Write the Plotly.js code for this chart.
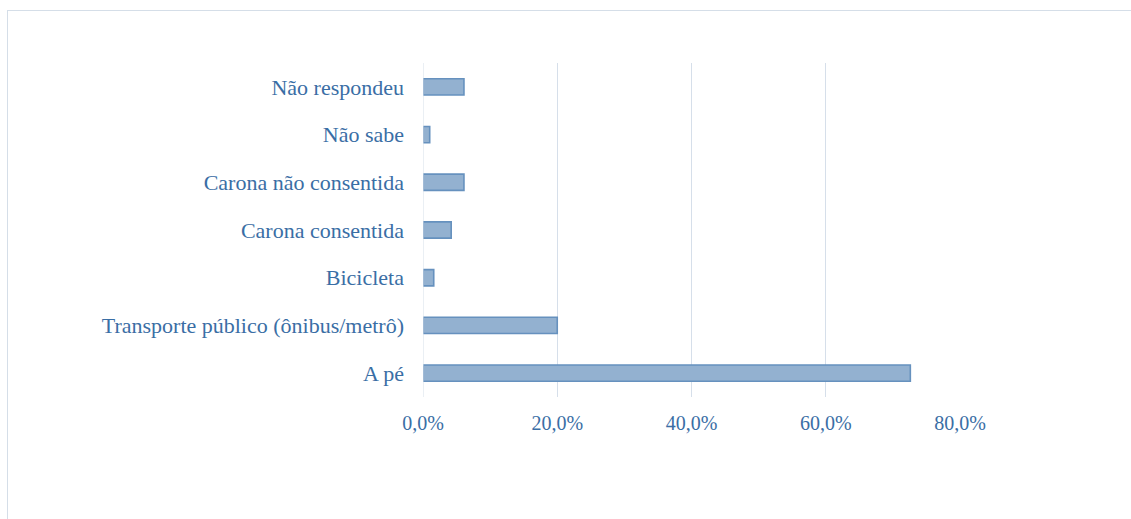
<!DOCTYPE html>
<html>
<head>
<meta charset="utf-8">
<script src="https://cdn.plot.ly/plotly-3.0.1.min.js"></script>
<style>
html,body{margin:0;padding:0;background:#fff;}
#frame{position:absolute;left:7px;top:10px;width:1130px;height:515px;border-left:1px solid #D5DEE8;border-top:1px solid #D5DEE8;box-sizing:border-box;}
#chart{position:absolute;left:0;top:0;width:1131px;height:519px;}
</style>
</head>
<body>
<div id="frame"></div>
<div id="chart"></div>
<script>
const categories = ["A pé","Transporte público (ônibus/metrô)","Bicicleta","Carona consentida","Carona não consentida","Não sabe","Não respondeu"];
const values = [72.6, 20.0, 1.6, 4.2, 6.1, 1.0, 6.1];
const tickValues = [0, 20, 40, 60, 80];
const tickLabels = ["0,0%", "20,0%", "40,0%", "60,0%", "80,0%"];

const trace = {
  type: 'bar',
  orientation: 'h',
  x: values,
  y: categories,
  width: 0.34,
  marker: {color: '#93B1D0', line: {color: '#6691BE', width: 1.6}},
  hoverinfo: 'skip'
};

const layout = {
  width: 1131, height: 519,
  margin: {l: 423, r: 171, t: 63, b: 122},
  paper_bgcolor: 'rgba(0,0,0,0)',
  plot_bgcolor: 'rgba(0,0,0,0)',
  showlegend: false,
  font: {family: 'Liberation Serif, Times New Roman, serif', size: 20, color: '#3A6EA5'},
  xaxis: {
    range: [0, 80],
    tickmode: 'array',
    tickvals: tickValues,
    ticktext: tickLabels,
    tickfont: {size: 20},
    showgrid: true,
    gridcolor: '#D6DFEA',
    gridwidth: 1,
    zeroline: false,
    showline: false,
    ticks: '',
    ticklabelstandoff: 12,
    fixedrange: true
  },
  yaxis: {
    type: 'category',
    categoryorder: 'array',
    categoryarray: categories,
    tickfont: {size: 22},
    showgrid: false,
    zeroline: false,
    showline: false,
    ticks: '',
    ticklabelstandoff: 18,
    fixedrange: true
  },
  shapes: [{type: 'line', xref: 'x', yref: 'paper', x0: 0, x1: 0, y0: 0, y1: 1, line: {color: '#D6DFEA', width: 1}}]
};

Plotly.newPlot('chart', [trace], layout, {staticPlot: true, displayModeBar: false});
</script>
</body>
</html>
